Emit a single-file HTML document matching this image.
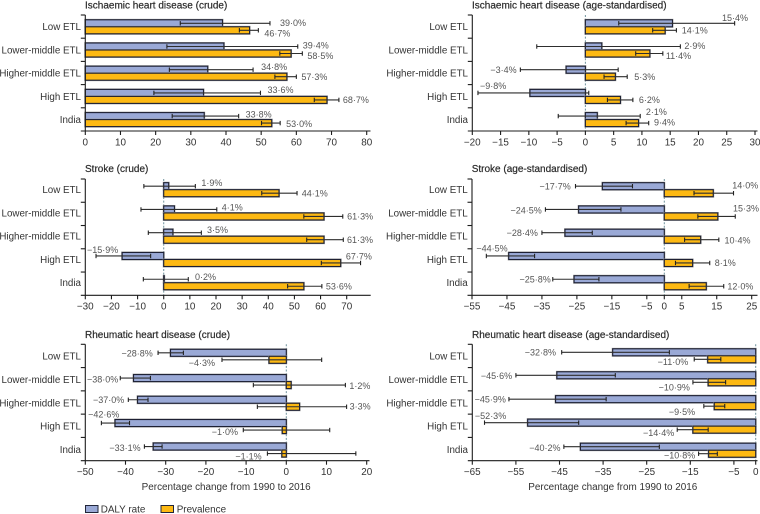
<!DOCTYPE html>
<html lang="en">
<head>
<meta charset="utf-8">
<title>Percentage change from 1990 to 2016</title>
<style>
html,body{margin:0;padding:0;background:#fff;}
svg{display:block;font-family:"Liberation Sans",Arial,sans-serif;}
.t{font-size:10px;fill:#2b2b2b;stroke:#2b2b2b;stroke-width:.2px;}
.y{font-size:9.8px;fill:#333;}
.k{font-size:9.9px;fill:#333;}
.v{font-size:9px;fill:#555;}
.a{font-size:9.9px;fill:#333;}
</style>
</head>
<body>
<svg id="chart" xmlns="http://www.w3.org/2000/svg" width="760" height="514" viewBox="0 0 760 514">
  <text class="a" x="141.7" y="490" textLength="169" lengthAdjust="spacingAndGlyphs">Percentage change from 1990 to 2016</text>
  <text class="a" x="528.3" y="490" textLength="169" lengthAdjust="spacingAndGlyphs">Percentage change from 1990 to 2016</text>
  <g>
    <rect x="85.5" y="505.5" width="12.5" height="7" fill="#9aa9d6" stroke="#22263a" stroke-width="1"/>
    <text class="a" x="100.7" y="512.5">DALY rate</text>
    <rect x="161" y="505.5" width="12.5" height="7" fill="#fdb913" stroke="#22263a" stroke-width="1"/>
    <text class="a" x="176.7" y="512.5">Prevalence</text>
  </g>
</svg>
<script>
const categories = ["Low ETL","Lower-middle ETL","Higher-middle ETL","High ETL","India"];

const ihdCrudeTicks = [0,10,20,30,40,50,60,70,80];
const ihdCrudeDaly = [39.0,39.4,34.8,33.6,33.8];
const ihdCrudeDalyLow = [27.0,23.2,23.9,19.5,24.7];
const ihdCrudeDalyHigh = [52.5,60.4,47.7,49.8,43.6];
const ihdCrudePrev = [46.7,58.5,57.3,68.7,53.0];
const ihdCrudePrevLow = [43.8,55.3,53.9,65.1,50.1];
const ihdCrudePrevHigh = [49.2,61.7,60.0,72.1,55.4];

const ihdAgeTicks = [-20,-15,-10,-5,0,5,10,15,20,25,30];
const ihdAgeDaly = [15.4,2.9,-3.4,-9.8,2.1];
const ihdAgeDalyLow = [5.9,-8.6,-11.5,-19.0,-4.8];
const ihdAgeDalyHigh = [26.4,16.8,5.8,0.6,9.7];
const ihdAgePrev = [14.1,11.4,5.3,6.2,9.4];
const ihdAgePrevLow = [11.9,8.9,3.3,3.9,7.2];
const ihdAgePrevHigh = [16.1,13.7,7.4,8.4,11.2];

const strokeCrudeTicks = [-30,-20,-10,0,10,20,30,40,50,60,70];
const strokeCrudeDaly = [1.9,4.1,3.5,-15.9,0.2];
const strokeCrudeDalyLow = [-7.6,-8.7,-5.9,-25.9,-7.8];
const strokeCrudeDalyHigh = [12.1,20.3,14.4,-5.0,9.4];
const strokeCrudePrev = [44.1,61.3,61.3,67.7,53.6];
const strokeCrudePrevLow = [37.5,53.6,54.7,60.3,47.4];
const strokeCrudePrevHigh = [51.0,68.5,68.7,75.3,60.5];

const strokeAgeTicks = [-55,-45,-35,-25,-15,-5,0,5,15,25];
const strokeAgeDaly = [-17.7,-24.5,-28.4,-44.5,-25.8];
const strokeAgeDalyLow = [-25.4,-34.0,-35.0,-50.9,-31.9];
const strokeAgeDalyHigh = [-9.1,-12.4,-20.6,-37.1,-18.7];
const strokeAgePrev = [14.0,15.3,10.4,8.1,12.0];
const strokeAgePrevLow = [8.5,9.6,5.8,3.2,7.1];
const strokeAgePrevHigh = [19.8,20.3,15.6,13.0,17.0];

const rhdCrudeTicks = [-50,-40,-30,-20,-10,0,10,20];
const rhdCrudeDaly = [-28.8,-38.0,-37.0,-42.6,-33.1];
const rhdCrudeDalyLow = [-31.9,-41.3,-39.3,-46.0,-35.3];
const rhdCrudeDalyHigh = [-25.6,-33.8,-34.4,-39.0,-30.9];
const rhdCrudePrev = [-4.3,1.2,3.3,-1.0,-1.1];
const rhdCrudePrevLow = [-16.0,-8.2,-7.2,-10.7,-4.7];
const rhdCrudePrevHigh = [8.8,14.7,15.0,10.8,17.3];

const rhdAgeTicks = [-65,-55,-45,-35,-25,-15,-5,0];
const rhdAgeDaly = [-32.8,-45.6,-45.9,-52.3,-40.2];
const rhdAgeDalyLow = [-44.5,-55.0,-56.6,-62.2,-44.0];
const rhdAgeDalyHigh = [-19.8,-32.2,-34.3,-40.6,-22.1];
const rhdAgePrev = [-11.0,-10.9,-9.5,-14.4,-10.8];
const rhdAgePrevLow = [-14.1,-14.4,-11.9,-18.0,-13.1];
const rhdAgePrevHigh = [-8.0,-6.9,-7.1,-10.9,-8.8];

const panels = [
 {id:"ihd-crude",title:"Ischaemic heart disease (crude)",ticks:ihdCrudeTicks,
  daly:ihdCrudeDaly,dalyLow:ihdCrudeDalyLow,dalyHigh:ihdCrudeDalyHigh,
  prev:ihdCrudePrev,prevLow:ihdCrudePrevLow,prevHigh:ihdCrudePrevHigh,
  left:85.3,right:366.7,end:370.5,top:15,bottom:131,off:11.8,titleY:8.5,rowShift:[0,0,0,0,0],
  dNudgeX:[10,5,8,7,7],dNudgeY:[-.7,-1.3,-3,-3,-2],pNudgeX:[6,5,5,4,6],pNudgeY:[3,2.3,0,0,.7]},
 {id:"ihd-age",title:"Ischaemic heart disease (age-standardised)",ticks:ihdAgeTicks,
  daly:ihdAgeDaly,dalyLow:ihdAgeDalyLow,dalyHigh:ihdAgeDalyHigh,
  prev:ihdAgePrev,prevLow:ihdAgePrevLow,prevHigh:ihdAgePrevHigh,
  left:472.3,right:755,end:757.5,top:15,bottom:131,off:11.8,titleY:8.5,rowShift:[0,0,0,0,0],
  dNudgeX:[-12.7,4,3.7,-28.3,5.7],dNudgeY:[-5.3,-.7,0,-7,-4.3],pNudgeX:[5.3,3,7,6,5.3],pNudgeY:[0,2.3,0,0,-1]},
 {id:"stroke-crude",title:"Stroke (crude)",ticks:strokeCrudeTicks,
  daly:strokeCrudeDaly,dalyLow:strokeCrudeDalyLow,dalyHigh:strokeCrudeDalyHigh,
  prev:strokeCrudePrev,prevLow:strokeCrudePrevLow,prevHigh:strokeCrudePrevHigh,
  left:85.3,right:346.7,end:370.7,top:179,bottom:295.3,off:10.7,titleY:172.2,rowShift:[0,0,0,0,0],
  dNudgeX:[6,5,5.7,-22.3,6.7],dNudgeY:[-3.5,-2,-2.7,-6,-2.2],pNudgeX:[4.7,4.3,3.7,-14.7,4],pNudgeY:[0,0,0,-6.7,0]},
 {id:"stroke-age",title:"Stroke (age-standardised)",ticks:strokeAgeTicks,
  daly:strokeAgeDaly,dalyLow:strokeAgeDalyLow,dalyHigh:strokeAgeDalyHigh,
  prev:strokeAgePrev,prevLow:strokeAgePrevLow,prevHigh:strokeAgePrevHigh,
  left:472,right:751.7,end:757.5,top:179,bottom:295.3,off:10.7,titleY:172.2,rowShift:[0,0,0,0,0],
  dNudgeX:[4.7,3.7,4,-21.3,2],dNudgeY:[0,1,0,-7.7,0],pNudgeX:[-1.3,-2.3,5.7,5,3.7],pNudgeY:[-7.8,-8.3,.7,0,0]},
 {id:"rhd-crude",title:"Rheumatic heart disease (crude)",ticks:rhdCrudeTicks,
  daly:rhdCrudeDaly,dalyLow:rhdCrudeDalyLow,dalyHigh:rhdCrudeDalyHigh,
  prev:rhdCrudePrev,prevLow:rhdCrudePrevLow,prevHigh:rhdCrudePrevHigh,
  left:85.3,right:366.7,end:369.5,top:344.3,bottom:460.7,off:12,titleY:338.2,rowShift:[0,2,0.4,0.4,0.6],
  dNudgeX:[5.3,2,4,-18,3.7],dNudgeY:[.5,1,0,-8.7,1.2],pNudgeX:[7,4,3,5.3,5.7],pNudgeY:[2.8,.7,-.4,1.9,2.6]},
 {id:"rhd-age",title:"Rheumatic heart disease (age-standardised)",ticks:rhdAgeTicks,
  daly:rhdAgeDaly,dalyLow:rhdAgeDalyLow,dalyHigh:rhdAgeDalyHigh,
  prev:rhdAgePrev,prevLow:rhdAgePrevLow,prevHigh:rhdAgePrevHigh,
  left:472.3,right:755.7,end:757.5,top:344.3,bottom:460.7,off:12,titleY:338.2,rowShift:[-0.5,-0.8,-0.2,0,0.8],
  dNudgeX:[5.7,3.7,3,-21.7,3.3],dNudgeY:[0,.7,0,-7,1],pNudgeX:[6,3,8.7,3,3.3],pNudgeY:[2.7,5,5.7,3.3,1.7]}
];

const svg = document.getElementById("chart");
const NS = "http://www.w3.org/2000/svg";

function mk(parent, tag, attrs, txt){
  const n = document.createElementNS(NS, tag);
  for (const k in attrs) n.setAttribute(k, attrs[k]);
  if (txt !== undefined) n.textContent = txt;
  parent.appendChild(n);
  return n;
}
function minus(v){ return v < 0 ? "\u2212" + Math.abs(v) : String(v); }
function pct(v){ return (v < 0 ? "\u2212" : "") + Math.abs(v).toFixed(1).replace(".", "\u00b7") + "%"; }

panels.forEach(function(p){
  const dMin = p.ticks[0];
  const dMax = p.ticks[p.ticks.length - 1];
  const xScale = function(v){ return p.left + (v - dMin) / (dMax - dMin) * (p.right - p.left); };
  const rowH = (p.bottom - p.top) / categories.length;
  const yCenter = function(i){ return p.top + p.off + rowH * i; };
  const barH = 7;
  const zeroX = xScale(0);

  const g = mk(svg, "g", {});
  
  

  const title = mk(g, "text", {class:"t", x:p.left - 0.3, y:p.titleY}, p.title);
  
  

  if (dMin < 0) {
    const zero = mk(g, "line", {x1:zeroX, x2:zeroX, y1:p.top, y2:p.bottom, stroke:"#6f929c", "stroke-width":1, "stroke-dasharray":"2 1.6"});
    
    
  }

  function drawSeries(key, i, v, lo, hi, fill, yTop, nx, ny){
    const x0 = Math.min(xScale(0), xScale(v));
    const w = Math.abs(xScale(v) - xScale(0));
    const halo = mk(g, "rect", {x:x0, y:yTop, width:w, height:barH, fill:"none", stroke:"#9a9a9a", "stroke-width":1.9});
    
    
    const bar = mk(g, "rect", {x:x0, y:yTop, width:w, height:barH, fill:fill, stroke:"#1d2033", "stroke-width":1.1});
    
    

    const cy = yTop + barH / 2;
    const err = mk(g, "line", {x1:xScale(lo), x2:xScale(hi), y1:cy, y2:cy, stroke:"#2e2e2e", "stroke-width":1.1});
    
    
    [lo, hi].forEach(function(e){
      const cap = mk(g, "line", {x1:xScale(e), x2:xScale(e), y1:cy - 2.2, y2:cy + 2.2, stroke:"#222", "stroke-width":1.1});
      
      
    });

    const neg = v < 0;
    const lx = neg ? xScale(lo) - nx[i] : xScale(hi) + nx[i];
    const label = mk(g, "text", {class:"v", x:lx, y:cy + ny[i] + 3.2, "text-anchor":neg ? "end" : "start"}, pct(v));
    
    
  }

  categories.forEach(function(c, i){
    const cy = yCenter(i) + p.rowShift[i];
    const lab = mk(g, "text", {class:"y", x:p.left - 4.3, y:yCenter(i) + 3.4, "text-anchor":"end"}, c);
    
    
    drawSeries("daly-rate", i, p.daly[i], p.dalyLow[i], p.dalyHigh[i], "#9aa9d6", cy - barH, p.dNudgeX, p.dNudgeY);
    drawSeries("prevalence", i, p.prev[i], p.prevLow[i], p.prevHigh[i], "#fdb913", cy, p.pNudgeX, p.pNudgeY);
  });

  const yAxis = mk(g, "line", {x1:p.left, x2:p.left, y1:p.top, y2:p.bottom, stroke:"#1c1c1c", "stroke-width":1.1});
  
  
  const xAxis = mk(g, "line", {x1:p.left - 4.5, x2:p.end, y1:p.bottom, y2:p.bottom, stroke:"#1c1c1c", "stroke-width":1.1});
  
  

  for (let i = 0; i < categories.length; i++) {
    const t = mk(g, "line", {x1:p.left - 4.5, x2:p.left, y1:p.top + rowH * i, y2:p.top + rowH * i, stroke:"#1c1c1c", "stroke-width":1.1});
    
    
  }

  p.ticks.forEach(function(v){
    const x = xScale(v);
    const tm = mk(g, "line", {x1:x, x2:x, y1:p.bottom, y2:p.bottom + 4, stroke:"#1c1c1c", "stroke-width":1.1});
    
    
    const tl = mk(g, "text", {class:"k", x:x, y:p.bottom + 14.3, "text-anchor":"middle"}, minus(v));
    
    
  });
});
</script>
</body>
</html>
